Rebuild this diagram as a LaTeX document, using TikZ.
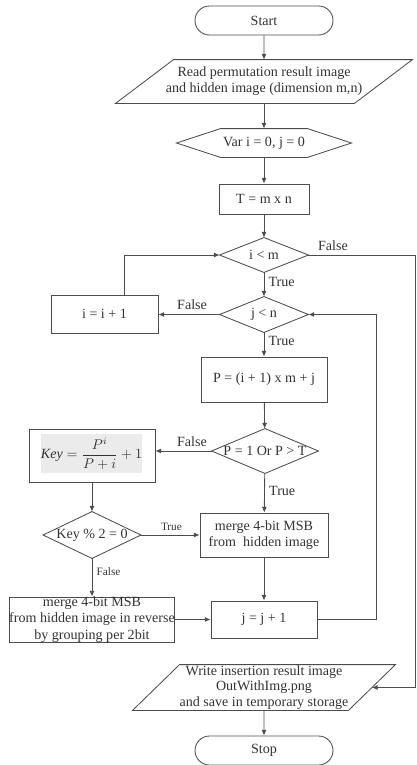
\documentclass[tikz,border=0pt]{standalone}
\usepackage{fontspec}
\setmainfont{Liberation Serif}
\usetikzlibrary{shapes.misc,arrows.meta}
\tikzset{
  base/.style={draw=black!70, text=black!80, line width=0.6pt, inner sep=0pt, align=center,
    font=\fontsize{10}{11.5}\selectfont},
  terminal/.style={base, rounded rectangle, minimum width=3.45cm, minimum height=0.725cm},
  process/.style={base, rectangle},
  decision/.style={base, draw=none, rectangle},
  io/.style={base, draw=none, rectangle},
  prep/.style={base, draw=none, rectangle, minimum width=4.35cm, minimum height=0.7cm},
  outline/.style={draw=black!70, line width=0.6pt},
  flow/.style={draw=black!70, line width=0.6pt, -{Latex[length=4pt,width=3.5pt]}},
  lbl/.style={text=black!80, inner sep=3pt, font=\fontsize{10}{11}\selectfont},
  smalllbl/.style={lbl, font=\fontsize{8}{9}\selectfont},
  keyshade/.style={fill=black!8, text=black!80, minimum width=2.325cm, minimum height=0.975cm, inner sep=0pt}
}
% outline of a decision node
\newcommand{\rhombus}[1]{\draw[outline] (#1.north) -- (#1.east) -- (#1.south) -- (#1.west) -- cycle;}
\begin{document}
\begin{tikzpicture}[x=0.025cm, y=-0.025cm]
\useasboundingbox (0,0) rectangle (416,765);
\coordinate (rail) at (415,0);

% main column
\node[terminal] (start) at (264,20.5) {Start};
\node[io, minimum width=5.95cm, minimum height=1.075cm] (read) at (264,81.5) {Read permutation result image\\and hidden image (dimension m,n)};
\draw[outline] ([xshift=-0.725cm]read.south west) -- ([xshift=0.725cm]read.north west) -- ([xshift=0.725cm]read.north east) -- ([xshift=-0.725cm]read.south east) -- cycle;
\node[prep] (init) at (264,143) {Var i = 0, j = 0};
\draw[outline] (init.west) -- ([xshift=1.1cm]init.north west) -- ([xshift=-1.1cm]init.north east) -- (init.east) -- ([xshift=-1.1cm]init.south east) -- ([xshift=1.1cm]init.south west) -- cycle;
\node[process, minimum width=2.25cm, minimum height=0.75cm] (total) at (264,199) {T = m x n};
\node[decision, minimum width=2.2cm, minimum height=0.85cm] (ilt) at (264,255) {i < m};
\rhombus{ilt}
\node[decision, minimum width=2.2cm, minimum height=0.875cm] (jlt) at (264,314.5) {j < n};
\rhombus{jlt}
\node[process, minimum width=2.675cm, minimum height=0.95cm] (inci) at (104.5,314) {i = i + 1};
\node[process, minimum width=3.15cm, minimum height=1.125cm] (pos) at (264,379.5) {P = (i + 1) x m + j};
\node[decision, minimum width=2.65cm, minimum height=1.1cm] (pcheck) at (265,451) {P = 1 Or P > T};
\rhombus{pcheck}
\node[process, minimum width=3.15cm, minimum height=1.325cm] (key) at (92,455.5) {};
\node[keyshade] (keyexpr) at (91.5,453.5) {$\displaystyle \mathit{Key} = \frac{P^{i}}{P+i} + 1$};
\node[decision, minimum width=2.425cm, minimum height=1.15cm] (keymod) at (92,535) {Key \% 2 = 0};
\rhombus{keymod}
\node[process, minimum width=3.2cm, minimum height=1.1cm] (merge) at (264,535) {merge 4-bit MSB\\from\ \ hidden image};
\node[process, minimum width=4.1cm, minimum height=1.125cm] (mergerev) at (92,619.5) {merge 4-bit MSB\\from hidden image in reverse\\by grouping per 2bit};
\node[process, minimum width=2.65cm, minimum height=0.925cm] (incj) at (264,619.5) {j = j + 1};
\node[io, minimum width=5.375cm, minimum height=1.125cm, font=\fontsize{10}{11}\selectfont] (write) at (264,687.5) {Write insertion result image\\OutWithImg.png\\and save in temporary storage};
\draw[outline] ([xshift=-0.5875cm]write.south west) -- ([xshift=0.5875cm]write.north west) -- ([xshift=0.5875cm]write.north east) -- ([xshift=-0.5875cm]write.south east) -- cycle;
\node[terminal] (stop) at (264,750.5) {Stop};

% connectors
\draw[flow] (start) -- (read);
\draw[flow] (read) -- (init);
\draw[flow] (init) -- (total);
\draw[flow] (total) -- (ilt);
\draw[flow] (ilt) -- node[lbl, right, pos=0.4] (t1) {True} (jlt);
\draw[flow] (jlt) -- node[lbl, right, pos=0.35] (t2) {True} (pos);
\draw[flow] (jlt.west) -- node[lbl, above, pos=0.45] (f2) {False} (jlt.west -| inci.east);
\draw[flow] ([xshift=0.4875cm]inci.north) |- (ilt.west);
\draw[flow] (pos) -- (pcheck);
\draw[flow] (pcheck.west) -- node[lbl, above, pos=0.35] (f3) {False} (pcheck.west -| key.east);
\draw[flow] (pcheck) -- node[lbl, right, pos=0.45] (t3) {True} (merge);
\draw[flow] (key) -- (keymod);
\draw[flow] (keymod.east) -- node[smalllbl, above, pos=0.52] (t4) {True} (keymod.east -| merge.west);
\draw[flow] (keymod) -- node[smalllbl, right, pos=0.35] (f4) {False} (mergerev);
\draw[flow] (merge) -- (incj);
\draw[flow] (mergerev.east) -- (incj.west);
\draw[flow] (incj.east) -- ++(59,0) |- (jlt.east);
\draw[flow] (ilt.east) -- node[lbl, above, pos=0.23] (f1) {False} (ilt.east -| rail) |- (write.east);
\draw[flow] (write) -- (stop);
\end{tikzpicture}
\end{document}
